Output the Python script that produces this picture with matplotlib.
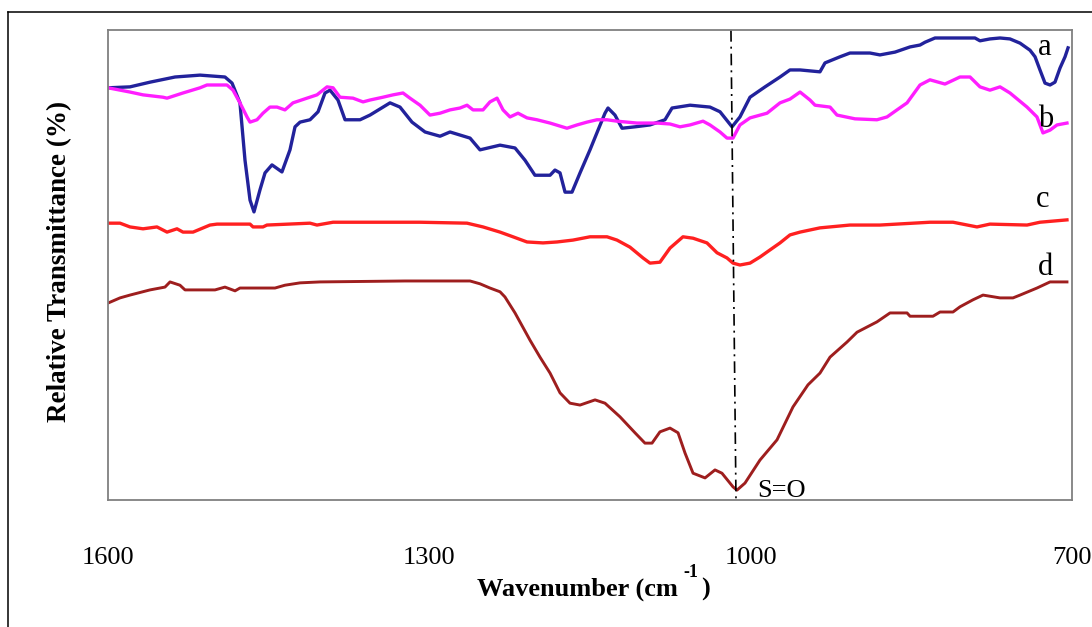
import matplotlib
matplotlib.use("Agg")
import matplotlib.pyplot as plt
from matplotlib.lines import Line2D

plt.rcParams['font.family'] = ['Liberation Serif', 'DejaVu Serif']

# ---------------- data (wavenumber in cm-1, relative transmittance in %) ----------------
wn_a = [1600, 1579.5, 1560.8, 1537.4, 1514.1, 1490.8, 1484.2, 1476.8, 1472.1, 1467.4,
        1463.7, 1458.1, 1453.4, 1446.9, 1437.6, 1430.1, 1425.4, 1420.7, 1411.4, 1403.9,
        1397.4, 1392.7, 1385.3, 1378.7, 1364.7, 1355.4, 1336.7, 1327.4, 1316.2, 1304.0,
        1290.0, 1280.7, 1262.0, 1252.7, 1234.0, 1220.0, 1210.7, 1201.4, 1187.3, 1182.7,
        1178.0, 1173.3, 1166.8, 1159.3, 1150.0, 1142.5, 1136.0, 1133.2, 1126.7, 1120.1,
        1108.0, 1094.0, 1080.0, 1073.4, 1056.6, 1038.0, 1028.6, 1017.4, 1010.0, 1000.6,
        986.6, 972.6, 963.3, 953.9, 935.3, 930.6, 916.6, 907.3, 888.6, 879.3,
        865.2, 851.2, 841.9, 837.2, 827.9, 790.6, 785.9, 776.6, 767.2, 757.9,
        748.5, 739.2, 734.5, 729.9, 725.2, 720.5, 715.9, 711.2, 706.5, 703.7]
T_a = [87.7, 87.9, 88.9, 90.0, 90.4, 90.0, 88.7, 84.5, 72.3, 63.8,
       61.3, 66.0, 69.6, 71.3, 69.8, 74.5, 79.4, 80.4, 80.9, 82.6,
       86.6, 87.2, 85.1, 80.9, 80.9, 81.9, 84.5, 83.6, 80.4, 78.3,
       77.4, 78.3, 77.0, 74.5, 75.5, 74.9, 72.3, 69.1, 69.1, 70.2,
       69.6, 65.5, 65.5, 69.6, 74.5, 78.7, 82.3, 83.4, 81.9, 79.1,
       79.4, 79.8, 80.9, 83.4, 84.0, 83.6, 82.6, 79.4, 81.5, 85.7,
       87.9, 90.0, 91.5, 91.5, 91.1, 93.0, 94.3, 95.1, 95.1, 94.7,
       95.3, 96.4, 96.8, 97.4, 98.3, 98.3, 97.7, 98.1, 98.3, 98.1,
       97.2, 95.7, 94.3, 91.5, 88.7, 88.3, 88.9, 91.9, 94.3, 96.2]

wn_b = [1600, 1579.5, 1567.3, 1548.7, 1544.9, 1530.0, 1514.1, 1507.6, 1488.9, 1483.3,
        1476.8, 1470.2, 1467.4, 1460.9, 1455.3, 1448.8, 1442.2, 1434.8, 1427.3, 1414.2,
        1404.9, 1395.5, 1389.9, 1383.4, 1371.3, 1361.9, 1355.4, 1343.3, 1333.9, 1324.6,
        1318.1, 1308.7, 1299.4, 1290.0, 1280.7, 1271.4, 1264.8, 1259.2, 1249.9, 1243.4,
        1236.8, 1231.2, 1224.7, 1217.2, 1208.8, 1199.5, 1187.3, 1171.5, 1162.1, 1152.8,
        1143.5, 1134.1, 1124.8, 1106.1, 1087.5, 1075.3, 1066.0, 1056.6, 1044.5, 1038.0,
        1028.6, 1022.1, 1016.5, 1010.0, 1000.6, 984.7, 972.6, 963.3, 953.9, 944.6,
        939.9, 925.9, 919.4, 902.6, 882.1, 872.7, 863.4, 854.0, 841.9, 832.6,
        818.6, 804.6, 795.2, 785.9, 776.6, 767.2, 757.9, 742.0, 732.7, 727.1,
        720.5, 714.0, 704.7]
T_b = [87.7, 86.8, 86.2, 85.7, 85.5, 86.6, 87.7, 88.3, 88.3, 87.2,
       84.5, 81.5, 80.4, 80.9, 82.3, 83.6, 83.6, 83.0, 84.5, 85.5,
       86.2, 87.9, 87.7, 85.7, 85.5, 84.7, 85.1, 85.7, 86.2, 86.6,
       85.5, 84.0, 81.9, 82.3, 83.0, 83.4, 84.0, 83.0, 83.0, 84.7,
       85.5, 83.0, 81.5, 82.3, 81.3, 80.9, 80.2, 79.1, 79.8, 80.4,
       80.9, 80.9, 80.6, 80.2, 80.2, 80.0, 79.4, 79.8, 80.6, 79.8,
       78.3, 77.0, 77.0, 79.8, 81.3, 82.3, 84.5, 85.3, 86.8, 85.1,
       84.0, 83.6, 81.9, 81.1, 80.9, 81.5, 83.0, 84.5, 88.3, 89.4,
       88.5, 90.0, 90.0, 87.9, 87.2, 87.9, 86.6, 83.6, 81.5, 78.1,
       78.7, 79.8, 80.2]

wn_c = [1600, 1588.8, 1579.5, 1567.3, 1554.3, 1544.9, 1535.6, 1530.0, 1520.6, 1504.8,
        1498.2, 1467.4, 1464.6, 1455.3, 1451.6, 1411.4, 1404.9, 1389.9, 1308.7, 1264.8,
        1249.9, 1234.0, 1221.9, 1208.8, 1193.9, 1180.8, 1165.9, 1150.0, 1134.1, 1124.8,
        1112.7, 1100.5, 1094.0, 1084.7, 1075.3, 1063.2, 1053.8, 1040.8, 1031.4, 1022.1,
        1016.5, 1010.0, 1000.6, 991.3, 982.0, 972.6, 963.3, 953.9, 935.3, 907.3,
        879.3, 832.6, 811.1, 788.7, 776.6, 742.0, 729.9, 704.7]
T_c = [58.9, 58.9, 58.1, 57.7, 58.1, 57.0, 57.7, 57.0, 57.0, 58.5,
       58.7, 58.7, 58.1, 58.1, 58.5, 58.9, 58.5, 59.1, 59.1, 58.9,
       58.1, 57.0, 56.0, 54.9, 54.7, 54.9, 55.3, 56.0, 56.0, 55.3,
       53.8, 51.5, 50.4, 50.6, 53.6, 56.0, 55.7, 54.7, 52.6, 51.5,
       50.4, 50.0, 50.4, 51.7, 53.2, 54.7, 56.4, 57.0, 57.9, 58.5,
       58.5, 59.1, 59.1, 58.1, 58.7, 58.5, 59.1, 59.6]

wn_d = [1600, 1588.8, 1579.5, 1560.8, 1546.8, 1542.1, 1532.8, 1528.1, 1500.1, 1490.8,
        1481.4, 1476.8, 1444.1, 1434.8, 1420.7, 1402.1, 1322.7, 1262.0, 1252.7, 1243.4,
        1234.0, 1229.4, 1220.0, 1206.0, 1196.7, 1187.3, 1178.0, 1168.7, 1159.3, 1145.3,
        1136.0, 1122.0, 1108.0, 1098.7, 1092.1, 1084.7, 1075.3, 1067.8, 1061.3, 1053.8,
        1042.6, 1033.3, 1026.8, 1016.5, 1012.8, 1005.3, 991.3, 975.4, 960.5, 946.5,
        935.3, 925.9, 910.1, 900.7, 882.1, 869.9, 854.0, 851.2, 829.8, 823.2,
        811.1, 804.6, 792.4, 783.1, 767.2, 755.1, 748.5, 732.7, 720.5, 704.7]
T_d = [41.9, 43.0, 43.6, 44.7, 45.3, 46.4, 45.7, 44.7, 44.7, 45.3,
       44.5, 45.1, 45.1, 45.7, 46.2, 46.4, 46.6, 46.6, 46.0, 45.1,
       44.3, 43.2, 39.8, 34.0, 30.4, 27.0, 22.8, 20.6, 20.2, 21.3,
       20.6, 17.7, 14.3, 12.1, 12.1, 14.5, 15.3, 14.3, 10.0, 5.7,
       4.7, 6.4, 5.7, 2.8, 2.1, 3.6, 8.5, 12.8, 19.8, 24.5,
       27.0, 30.4, 33.6, 35.7, 37.9, 39.8, 39.8, 39.1, 39.1, 40.0,
       40.0, 41.1, 42.6, 43.6, 43.0, 43.0, 43.6, 45.1, 46.4, 46.4]

curve_labels = ['a', 'b', 'c', 'd']
label_wn = [725.2, 724.3, 727.1, 724.3]
label_T = [94.7, 79.4, 62.3, 47.9]
colors = ['#22229B', '#FF1EFF', '#FF2020', '#9E1E1E']

x_ticks = [1600, 1300, 1000, 700]
so_line_wn = [1018.4, 1013.7]
so_line_T = [100, 0]
so_text = 'S=O'
so_text_pos = (994.1, 0.6)

xlabel_main = 'Wavenumber (cm'
xlabel_sup = '-1'
xlabel_end = ')'
ylabel = 'Relative Transmittance (%)'

# ---------------- figure ----------------
W, H = 1092, 627
fig = plt.figure(figsize=(W / 100, H / 100), dpi=100)
ax = fig.add_axes([108 / W, 1 - 500 / H, (1072 - 108) / W, (500 - 30) / H])

series = [(wn_a, T_a), (wn_b, T_b), (wn_c, T_c), (wn_d, T_d)]
widths = [2.4, 2.4, 2.4, 2.1]
for (xs, ys), col, lw in zip(series, colors, widths):
    ax.plot(xs, ys, color=col, lw=lw)

ax.plot(so_line_wn, so_line_T, color='black', lw=1.2, linestyle=(0, (7, 3, 1.2, 3)))

for lab, xw, yt in zip(curve_labels, label_wn, label_T):
    ax.text(xw, yt, lab, ha='center', va='baseline', fontsize=22, color='black')
ax.text(so_text_pos[0], so_text_pos[1], so_text, ha='left', va='baseline',
        fontsize=19, color='black')

ax.set_xlim(1600, 700)
ax.set_ylim(0, 100)
ax.set_xticks(x_ticks)
ax.set_xticklabels([str(t) for t in x_ticks], fontsize=19)
ax.set_yticks([])
ax.tick_params(axis='x', length=0, pad=34)
for s in ax.spines.values():
    s.set_color('#808080')
    s.set_linewidth(1.3)

fig.text(60 / W, 1 - 261 / H, ylabel, rotation=90,
         ha='center', va='center', fontsize=19.5, fontweight='bold')

# x label built from pieces so the superscript keeps a plain hyphen
base_y = 1 - 596 / H
t1 = fig.text(477 / W, base_y, xlabel_main, ha='left', va='baseline',
              fontsize=19, fontweight='bold')
renderer = fig.canvas.get_renderer()
bb1 = t1.get_window_extent(renderer)
x_sup = bb1.x1 + 6
t2 = fig.text(x_sup / W, 1 - 577 / H, xlabel_sup, ha='left', va='baseline',
              fontsize=13, fontweight='bold')
bb2 = t2.get_window_extent(renderer)
fig.text((bb2.x1 + 2) / W, base_y, xlabel_end, ha='left', va='baseline',
         fontsize=19, fontweight='bold')

# outer frame (left and top edges visible)
fig.add_artist(Line2D([7.5 / W, 7.5 / W], [0, 1 - 12 / H], transform=fig.transFigure,
                      color='black', lw=1.1))
fig.add_artist(Line2D([7.5 / W, 1], [1 - 12 / H, 1 - 12 / H], transform=fig.transFigure,
                      color='black', lw=1.1))

fig.savefig('out.png', dpi=100)
